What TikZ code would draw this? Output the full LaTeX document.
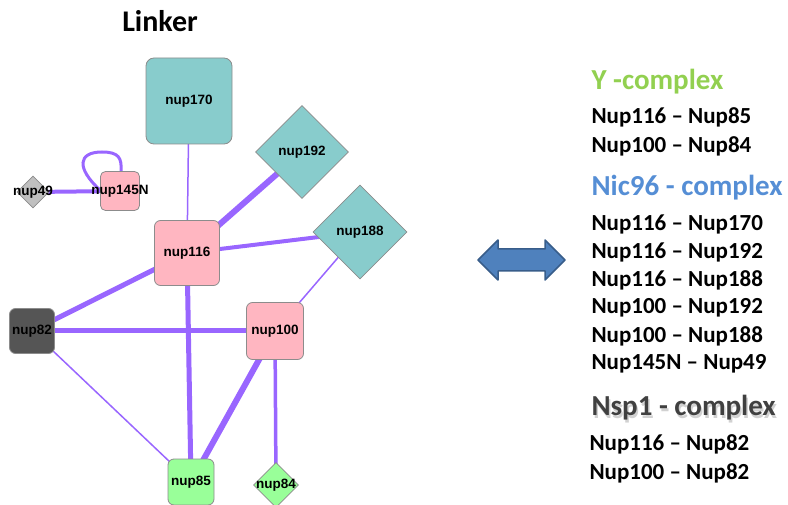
\documentclass[tikz,border=0pt]{standalone}
\usepackage{fontspec}
\setmainfont{Carlito}
\newfontfamily\labelfont{Liberation Sans}
\usetikzlibrary{shapes.geometric}

\definecolor{edgepurple}{RGB}{153,102,255}
\definecolor{tealnode}{RGB}{136,204,204}
\definecolor{pinknode}{RGB}{255,182,193}
\definecolor{greennode}{RGB}{153,255,153}
\definecolor{darknode}{RGB}{85,85,85}
\definecolor{graynode}{RGB}{192,192,192}
\definecolor{nodeborder}{RGB}{140,140,140}
\definecolor{ygreen}{RGB}{146,208,80}
\definecolor{nicblue}{RGB}{85,142,213}
\definecolor{nspgray}{RGB}{64,64,64}
\definecolor{arrowfill}{RGB}{79,129,189}
\definecolor{arrowedge}{RGB}{56,93,138}

\tikzset{
  x=1pt, y=-1pt,
  nodetext/.style={font=\labelfont\bfseries\fontsize{13.5}{15}\selectfont, text=black},
  sqnode/.style={nodetext, draw=nodeborder, line width=0.8pt, rectangle,
    rounded corners=#1, inner sep=0pt},
  dmnode/.style={nodetext, draw=nodeborder, line width=0.8pt, diamond,
    inner sep=0pt, aspect=1},
  link/.style={draw=edgepurple, line width=#1},
  head/.style={font=\bfseries\fontsize{29}{33}\selectfont, anchor=west},
  pair/.style={font=\bfseries\fontsize{23}{27}\selectfont, anchor=west},
}

\begin{document}
\begin{tikzpicture}
\useasboundingbox (0,0) rectangle (788,505);

% title
\node[font=\bfseries\fontsize{30}{34}\selectfont] (title) at (160,21) {Linker};

% node placement
\coordinate (p170) at (189,101);
\coordinate (p192) at (302,152);
\coordinate (p188) at (360,232);
\coordinate (p49)  at (33,192);
\coordinate (p145) at (120,191);
\coordinate (p116) at (187,253);
\coordinate (p82)  at (32,331);
\coordinate (p100) at (275,331);
\coordinate (p85)  at (191,482);
\coordinate (p84)  at (276,485);

% edges first so the nodes sit on top of them
\begin{scope}
\draw[link=1.5pt] (p170) -- (p116);
\draw[link=6pt] (p116) -- (p192);
\draw[link=4pt] (p116) -- (p188);
\draw[link=1.5pt] (p188) -- (p100);
\draw[link=5pt] (p116) -- (p82);
\draw[link=5pt] (p82) -- (p100);
\draw[link=5pt] (p116) -- (p85);
\draw[link=6pt] (p100) -- (p85);
\draw[link=3.5pt] (p100) -- (p84);
\draw[link=1.5pt] (p82) -- (p85);
\draw[link=4pt] (p49) -- (p145);
\draw[link=3pt] (p145) ++(-20,-1) .. controls (76,168) and (78,152) .. (102,152)
  .. controls (119,152) and (122,158) .. (121,172);
\end{scope}

% nodes
\node[sqnode=8pt, fill=tealnode, minimum size=86pt] (nup170) at (p170) {nup170};
\node[dmnode, fill=tealnode, minimum size=93pt] (nup192) at (p192) {nup192};
\node[dmnode, fill=tealnode, minimum size=94pt] (nup188) at (p188) {nup188};
\node[dmnode, fill=graynode, minimum size=32pt] (nup49) at (p49) {};
\node[nodetext] at (nup49.center) {nup49};
\node[sqnode=5pt, fill=pinknode, minimum size=39pt] (nup145N) at (p145) {};
\node[nodetext] at (nup145N.center) {nup145N};
\node[sqnode=6pt, fill=pinknode, minimum size=65pt] (nup116) at (p116) {nup116};
\node[sqnode=6pt, fill=darknode, minimum size=45pt] (nup82) at (p82) {nup82};
\node[sqnode=6pt, fill=pinknode, minimum size=57pt] (nup100) at (p100) {nup100};
\node[sqnode=6pt, fill=greennode, minimum size=46pt] (nup85) at (p85) {nup85};
\node[dmnode, fill=greennode, minimum size=45pt] (nup84) at (p84) {};
\node[nodetext] at (nup84.center) {nup84};

% double-headed arrow
\filldraw[fill=arrowfill, draw=arrowedge, line width=1.5pt, line join=round]
  (478,260) -- (498,240) -- (498,249) -- (545,249) -- (545,240) -- (565,260)
  -- (545,280) -- (545,271) -- (498,271) -- (498,280) -- cycle;

% complex lists
\node[head, text=ygreen] (yhead) at (588,82) {Y -complex};
\node[pair] (y1) at (588,117) {Nup116 -- Nup85};
\node[pair] (y2) at (588,146) {Nup100 -- Nup84};

\node[head, text=nicblue] (nhead) at (588,188) {Nic96 - complex};
\node[pair] (n1) at (588,224) {Nup116 -- Nup170};
\node[pair] (n2) at (588,252) {Nup116 -- Nup192};
\node[pair] (n3) at (588,280) {Nup116 -- Nup188};
\node[pair] (n4) at (588,308) {Nup100 -- Nup192};
\node[pair] (n5) at (588,336) {Nup100 -- Nup188};
\node[pair] (n6) at (588,364) {Nup145N -- Nup49};

\node[head, text=black!30, opacity=0.6] at (589.5,410.5) {Nsp1 - complex};
\node[head, text=nspgray] (shead) at (588,408) {Nsp1 - complex};
\node[pair] (s1) at (586,444) {Nup116 -- Nup82};
\node[pair] (s2) at (586,473) {Nup100 -- Nup82};
\end{tikzpicture}
\end{document}
